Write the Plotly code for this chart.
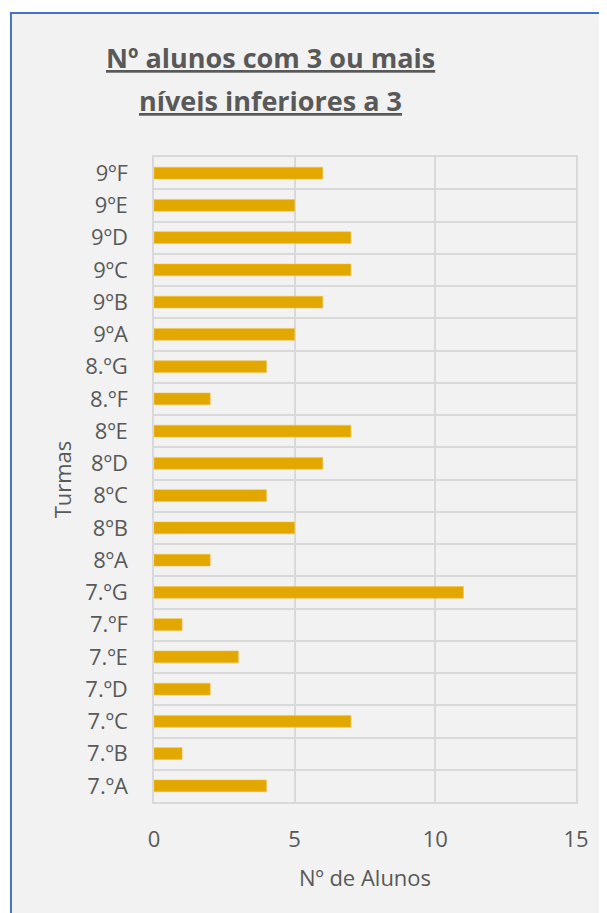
import plotly.graph_objects as go

turmas = ["7.ºA", "7.ºB", "7.ºC", "7.ºD", "7.ºE", "7.ºF", "7.ºG",
          "8ºA", "8ºB", "8ºC", "8ºD", "8ºE", "8.ºF", "8.ºG",
          "9ºA", "9ºB", "9ºC", "9ºD", "9ºE", "9ºF"]
alunos = [4, 1, 7, 2, 3, 1, 11,
          2, 5, 4, 6, 7, 2, 4,
          5, 6, 7, 7, 5, 6]
x_ticks = [0, 5, 10, 15]

txt = "#595959"
fnt = "Open Sans"
grid = "#D9D9D9"

fig = go.Figure()
fig.add_trace(go.Bar(x=alunos, y=turmas, orientation="h",
                     marker=dict(color="#E3A800", line=dict(color="#F0C24A", width=0.5)),
                     showlegend=False))

# chart area with blue border (page has 8px body margin, so figure is 599x905)
fig.add_shape(type="rect", xref="paper", yref="paper",
              x0=-0.339, x1=1.5, y0=-0.5, y1=1.2233,
              fillcolor="#F2F2F2", line=dict(color="#4472C4", width=2), layer="below")

fig.add_annotation(text="<b><u>Nº alunos com 3 ou mais</u></b>", xref="paper", yref="paper",
                   x=0.277, y=1.154, showarrow=False, xanchor="center", yanchor="middle",
                   font=dict(family=fnt, size=27, color=txt))
fig.add_annotation(text="<b><u>níveis inferiores a 3</u></b>", xref="paper", yref="paper",
                   x=0.277, y=1.088, showarrow=False, xanchor="center", yanchor="middle",
                   font=dict(family=fnt, size=27, color=txt))

fig.update_layout(
    width=599, height=905,
    margin=dict(l=146, r=31, t=149, b=111),
    paper_bgcolor="white", plot_bgcolor="#F2F2F2",
    bargap=0.63,
    font=dict(family=fnt, size=22, color=txt),
    xaxis=dict(range=[0, 15], tickvals=x_ticks, showgrid=True, gridcolor=grid, gridwidth=1.5,
               zeroline=False, showline=True, mirror=True, linecolor=grid, linewidth=1.5,
               ticks="", ticklabelstandoff=17,
               title=dict(text="Nº de Alunos", standoff=18, font=dict(size=22))),
    yaxis=dict(type="category", categoryorder="array", categoryarray=turmas,
               tickson="boundaries", showgrid=True, gridcolor=grid, gridwidth=1.5,
               showline=True, mirror=True, linecolor=grid, linewidth=1.5,
               ticks="", ticklabelstandoff=20,
               title=dict(text="Turmas", standoff=8, font=dict(size=22))),
)

fig.write_html("out.html")
